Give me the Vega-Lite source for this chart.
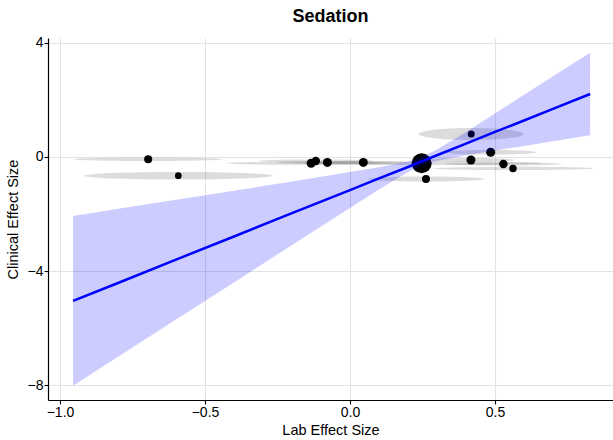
{
  "$schema": "https://vega.github.io/schema/vega-lite/v6.json",
  "width": 565,
  "height": 362,
  "autosize": {"type": "none"},
  "padding": {"left": 48, "top": 38, "right": 0, "bottom": 40},
  "background": "white",
  "title": {"text": "Sedation", "font": "Liberation Sans", "fontSize": 18, "fontWeight": "bold", "color": "black", "anchor": "middle", "frame": "group", "offset": 10},
  "config": {
    "view": {"stroke": null},
    "axis": {
      "domainColor": "black", "domainWidth": 1.2,
      "tickColor": "black", "tickWidth": 1.1, "tickSize": 4,
      "labelColor": "black", "labelFont": "Liberation Sans", "labelFontSize": 14, "labelPadding": 1,
      "titleFont": "Liberation Sans", "titleFontSize": 14.5, "titleFontWeight": "normal", "titleColor": "black",
      "gridColor": "#e2e2e2", "gridWidth": 1.1
    }
  },
  "datasets": {
    "studies": [
      {"id": "s1", "lab": -0.696, "clin": -0.08, "lab_se": 0.259, "w": 64},
      {"id": "s2", "lab": -0.592, "clin": -0.656, "lab_se": 0.324, "w": 45},
      {"id": "s3", "lab": -0.134, "clin": -0.22, "lab_se": 0.29, "w": 81},
      {"id": "s4", "lab": -0.118, "clin": -0.14, "lab_se": 0.2, "w": 72},
      {"id": "s5", "lab": -0.078, "clin": -0.19, "lab_se": 0.17, "w": 81},
      {"id": "s6", "lab": 0.046, "clin": -0.19, "lab_se": 0.15, "w": 81},
      {"id": "s7", "lab": 0.247, "clin": -0.22, "lab_se": 0.417, "w": 400},
      {"id": "s8", "lab": 0.262, "clin": -0.77, "lab_se": 0.2, "w": 64},
      {"id": "s9", "lab": 0.418, "clin": 0.81, "lab_se": 0.181, "w": 49},
      {"id": "s10", "lab": 0.417, "clin": -0.105, "lab_se": 0.15, "w": 81},
      {"id": "s11", "lab": 0.485, "clin": 0.165, "lab_se": 0.16, "w": 81},
      {"id": "s12", "lab": 0.529, "clin": -0.245, "lab_se": 0.2, "w": 72},
      {"id": "s13", "lab": 0.562, "clin": -0.40, "lab_se": 0.276, "w": 56}
    ],
    "fit": [
      {"lab": -0.955, "lo": -8.03, "hi": -2.07, "clin": -5.05},
      {"lab": -0.8, "lo": -7.01, "hi": -1.82, "clin": -4.42},
      {"lab": -0.6, "lo": -5.70, "hi": -1.50, "clin": -3.60},
      {"lab": -0.4, "lo": -4.40, "hi": -1.18, "clin": -2.79},
      {"lab": -0.2, "lo": -3.09, "hi": -0.86, "clin": -1.97},
      {"lab": 0.0, "lo": -1.79, "hi": -0.53, "clin": -1.16},
      {"lab": 0.1, "lo": -1.14, "hi": -0.36, "clin": -0.75},
      {"lab": 0.2, "lo": -0.53, "hi": -0.16, "clin": -0.35},
      {"lab": 0.245, "lo": -0.31, "hi": -0.01, "clin": -0.16},
      {"lab": 0.3, "lo": -0.14, "hi": 0.26, "clin": 0.06},
      {"lab": 0.4, "lo": 0.06, "hi": 0.88, "clin": 0.47},
      {"lab": 0.5, "lo": 0.23, "hi": 1.53, "clin": 0.88},
      {"lab": 0.6, "lo": 0.39, "hi": 2.18, "clin": 1.28},
      {"lab": 0.7, "lo": 0.55, "hi": 2.83, "clin": 1.69},
      {"lab": 0.828, "lo": 0.76, "hi": 3.66, "clin": 2.21}
    ]
  },
  "resolve": {"scale": {"size": "independent", "shape": "independent"}},
  "layer": [
    {
      "data": {"name": "studies"},
      "mark": {"type": "point", "filled": true, "color": "#808080", "opacity": 0.28, "strokeWidth": 0},
      "encoding": {
        "x": {"field": "lab", "type": "quantitative", "title": "Lab Effect Size",
              "scale": {"domain": [-1.0414, 0.9069], "nice": false, "zero": false},
              "axis": {"values": [-1, -0.5, 0, 0.5], "format": ".1f", "titlePadding": 4}},
        "y": {"field": "clin", "type": "quantitative", "title": "Clinical Effect Size",
              "scale": {"domain": [-8.526, 4.175], "nice": false, "zero": false},
              "axis": {"values": [-8, -4, 0, 4], "format": "d", "titlePadding": 7}},
        "shape": {"field": "id", "type": "nominal", "legend": null,
                  "scale": {"domain": ["s1","s2","s3","s4","s5","s6","s7","s8","s9","s10","s11","s12","s13"],
                            "range": [
                              "M -1 0 A 1 0.023 0 1 1 1 0 A 1 0.023 0 1 1 -1 0 Z",
                              "M -1 0 A 1 0.040 0 1 1 1 0 A 1 0.040 0 1 1 -1 0 Z",
                              "M -1 0 A 1 0.018 0 1 1 1 0 A 1 0.018 0 1 1 -1 0 Z",
                              "M -1 0 A 1 0.026 0 1 1 1 0 A 1 0.026 0 1 1 -1 0 Z",
                              "M -1 0 A 1 0.031 0 1 1 1 0 A 1 0.031 0 1 1 -1 0 Z",
                              "M -1 0 A 1 0.034 0 1 1 1 0 A 1 0.034 0 1 1 -1 0 Z",
                              "M -1 0 A 1 0.015 0 1 1 1 0 A 1 0.015 0 1 1 -1 0 Z",
                              "M -1 0 A 1 0.043 0 1 1 1 0 A 1 0.043 0 1 1 -1 0 Z",
                              "M -1 0 A 1 0.114 0 1 1 1 0 A 1 0.114 0 1 1 -1 0 Z",
                              "M -1 0 A 1 0.046 0 1 1 1 0 A 1 0.046 0 1 1 -1 0 Z",
                              "M -1 0 A 1 0.050 0 1 1 1 0 A 1 0.050 0 1 1 -1 0 Z",
                              "M -1 0 A 1 0.026 0 1 1 1 0 A 1 0.026 0 1 1 -1 0 Z",
                              "M -1 0 A 1 0.019 0 1 1 1 0 A 1 0.019 0 1 1 -1 0 Z"
                            ]}},
        "size": {"field": "lab_se", "type": "quantitative", "legend": null,
                 "scale": {"type": "pow", "exponent": 2, "domain": [0, 1], "range": [0, 336400], "zero": true}}
      }
    },
    {
      "data": {"name": "studies"},
      "mark": {"type": "circle", "color": "black", "opacity": 1},
      "encoding": {
        "x": {"field": "lab", "type": "quantitative", "title": "Lab Effect Size", "scale": {"domain": [-1.0414, 0.9069], "nice": false, "zero": false}},
        "y": {"field": "clin", "type": "quantitative", "title": "Clinical Effect Size", "scale": {"domain": [-8.526, 4.175], "nice": false, "zero": false}},
        "size": {"field": "w", "type": "quantitative", "legend": null, "scale": {"domain": [0, 400], "range": [0, 400]}}
      }
    },
    {
      "data": {"name": "fit"},
      "mark": {"type": "area", "color": "blue", "opacity": 0.2},
      "encoding": {
        "x": {"field": "lab", "type": "quantitative", "title": "Lab Effect Size", "scale": {"domain": [-1.0414, 0.9069], "nice": false, "zero": false}},
        "y": {"field": "lo", "type": "quantitative", "title": "Clinical Effect Size", "scale": {"domain": [-8.526, 4.175], "nice": false, "zero": false}},
        "y2": {"field": "hi"}
      }
    },
    {
      "data": {"name": "fit"},
      "mark": {"type": "line", "color": "blue", "strokeWidth": 2.5},
      "encoding": {
        "x": {"field": "lab", "type": "quantitative", "title": "Lab Effect Size", "scale": {"domain": [-1.0414, 0.9069], "nice": false, "zero": false}},
        "y": {"field": "clin", "type": "quantitative", "title": "Clinical Effect Size", "scale": {"domain": [-8.526, 4.175], "nice": false, "zero": false}}
      }
    }
  ]
}
